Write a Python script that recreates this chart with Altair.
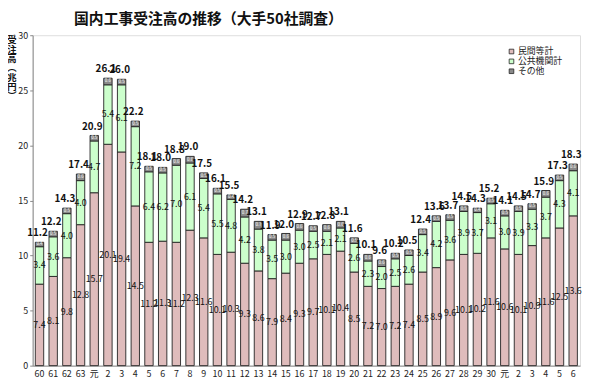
import altair as alt
import pandas as pd

years = ["60", "61", "62", "63", "元"] + [str(i) for i in range(2, 31)] + ["元", "2", "3", "4", "5", "6"]
private = [7.4, 8.1, 9.8, 12.8, 15.7, 20.1, 19.4, 14.5, 11.2, 11.3, 11.2, 12.3, 11.6, 10.1, 10.3,
           9.3, 8.6, 7.9, 8.4, 9.3, 9.7, 10.1, 10.4, 8.5, 7.2, 7.0, 7.2, 7.4, 8.5, 8.9, 9.6, 10.1,
           10.2, 11.6, 10.6, 10.1, 10.9, 11.6, 12.5, 13.6]
public = [3.4, 3.6, 4.0, 4.0, 4.7, 5.4, 6.1, 7.2, 6.4, 6.2, 7.0, 6.1, 5.4, 5.5, 4.8, 4.2, 3.8,
          3.5, 3.0, 3.0, 2.5, 2.1, 2.1, 2.6, 2.3, 2.0, 2.5, 2.6, 3.4, 4.2, 3.6, 3.9, 3.7, 3.1,
          3.0, 3.9, 3.3, 3.7, 4.3, 4.1]
other = [0.4, 0.5, 0.5, 0.6, 0.5, 0.6, 0.5, 0.5, 0.5, 0.5, 0.6, 0.6, 0.5, 0.5, 0.4, 0.7, 0.7,
         0.5, 0.6, 0.6, 0.5, 0.6, 0.6, 0.5, 0.6, 0.6, 0.5, 0.5, 0.5, 0.5, 0.5, 0.5, 0.4, 0.5,
         0.5, 0.5, 0.5, 0.6, 0.5, 0.6]
total = [11.2, 12.2, 14.3, 17.4, 20.9, 26.1, 26.0, 22.2, 18.1, 18.0, 18.8, 19.0, 17.5, 16.1,
         15.5, 14.2, 13.1, 11.9, 12.0, 12.9, 12.7, 12.8, 13.1, 11.6, 10.1, 9.6, 10.2, 10.5,
         12.4, 13.6, 13.7, 14.5, 14.3, 15.2, 14.1, 14.5, 14.7, 15.9, 17.3, 18.3]
series = ["民間等計", "公共機関計", "その他"]
colors = ["#dfbcbc", "#ccffcc", "#8a8a8a"]
title_text = "国内工事受注高の推移（大手50社調査）"
y_title = "受\n注\n高\n︵\n兆\n円\n︶"

n = len(years)
rows = []
for i in range(n):
    for k, (name, vals) in enumerate(zip(series, [private, public, other])):
        rows.append({"idx": i, "series": name, "value": vals[i], "order": k})
long_df = pd.DataFrame(rows)

lab = pd.DataFrame({
    "idx": list(range(n)),
    "priv_y": [p / 2 for p in private],
    "priv_t": [f"{p:.1f}" for p in private],
    "pub_y": [p + q / 2 for p, q in zip(private, public)],
    "pub_t": [f"{q:.1f}" for q in public],
    "oth_y": [p + q + o / 2 for p, q, o in zip(private, public, other)],
    "oth_t": [f"{o:.1f}" for o in other],
    "tot_y": total,
    "tot_t": [f"{t:.1f}" for t in total],
})

label_expr = "[" + ",".join(f"'{y}'" for y in years) + "][datum.value]"
FONT = "Noto Sans CJK JP"

x_enc = alt.X("idx:O", scale=alt.Scale(paddingInner=0, paddingOuter=0),
              axis=alt.Axis(title=None, labelExpr=label_expr, labelAngle=0, ticks=False,
                            labelFontSize=9, labelColor="#222", domainColor="#888",
                            labelPadding=4, labelFont=FONT))
y_scale = alt.Scale(domain=[0, 30], nice=False)

bars = alt.Chart(long_df).mark_bar(size=8.5, stroke="#222", strokeWidth=0.9).encode(
    x=x_enc,
    y=alt.Y("value:Q", stack="zero", scale=y_scale,
            axis=alt.Axis(values=[0, 5, 10, 15, 20, 25, 30], grid=False, title=None,
                          labelFontSize=9, labelColor="#222", tickSize=3,
                          tickColor="#888", domainColor="#888", labelPadding=2,
                          labelFont=FONT)),
    color=alt.Color("series:N", scale=alt.Scale(domain=series, range=colors),
                    legend=alt.Legend(title=None, orient="none", legendX=481, legendY=12,
                                      symbolType="square", symbolSize=22,
                                      symbolStrokeColor="#222", symbolStrokeWidth=0.8,
                                      labelFontSize=9, labelFont=FONT, rowPadding=-1,
                                      labelOffset=2, labelColor="#222")),
    order=alt.Order("order:Q"),
)

base = alt.Chart(lab).encode(x=alt.X("idx:O"))
priv_txt = base.mark_text(fontSize=9, font=FONT, color="#111").encode(
    y=alt.Y("priv_y:Q", scale=y_scale), text="priv_t:N")
pub_txt = base.mark_text(fontSize=9, font=FONT, color="#111").encode(
    y=alt.Y("pub_y:Q", scale=y_scale), text="pub_t:N")
oth_txt = base.mark_text(fontSize=4.5, font=FONT, color="#fff").encode(
    y=alt.Y("oth_y:Q", scale=y_scale), text="oth_t:N")
tot_txt = base.mark_text(fontSize=10, font=FONT, color="#111", fontWeight="bold",
                         baseline="bottom", dy=-4, dx=-2).encode(
    y=alt.Y("tot_y:Q", scale=y_scale), text="tot_t:N")

title_mark = alt.Chart(pd.DataFrame({"t": [title_text]})).mark_text(
    fontSize=15, font=FONT, fontWeight="bold", color="#111", align="left",
    baseline="middle").encode(x=alt.value(42), y=alt.value(-16), text="t:N")

ytitle_mark = alt.Chart(pd.DataFrame({"t": [y_title]})).mark_text(
    fontSize=9.5, font=FONT, fontWeight="bold", color="#111", align="center",
    baseline="top", lineBreak="\n", lineHeight=9.5).encode(
    x=alt.value(-21), y=alt.value(0), text="t:N")

chart = alt.layer(bars, priv_txt, pub_txt, oth_txt, tot_txt, title_mark, ytitle_mark).properties(
    width=555, height=335,
    autosize=alt.AutoSizeParams(type="none"),
    padding={"left": 25, "top": 25, "right": 2, "bottom": 16},
).configure_view(stroke="#cfcfcf", strokeWidth=1).configure(background="white")

chart.save("out.html", embed_options={"renderer": "svg", "actions": False})
